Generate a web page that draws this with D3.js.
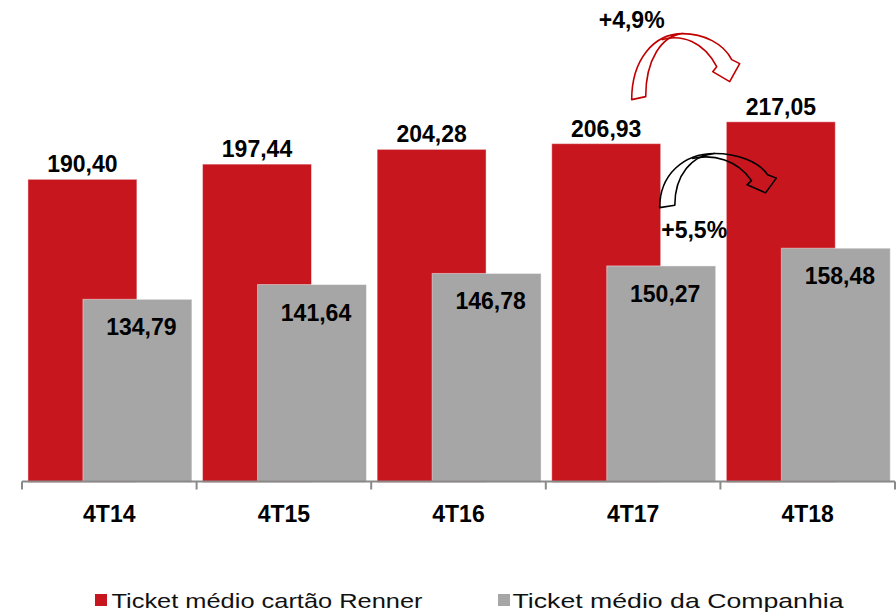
<!DOCTYPE html>
<html><head><meta charset="utf-8">
<script src="https://cdn.jsdelivr.net/npm/d3@7"></script>
<style>html,body{margin:0;padding:0;background:#fff;}svg{display:block;}</style>
</head><body>
<svg id="chart" width="896" height="616"></svg>
<script>
const categories = ["4T14", "4T15", "4T16", "4T17", "4T18"];
const cartaoRenner = [190.40, 197.44, 204.28, 206.93, 217.05];
const companhia = [134.79, 141.64, 146.78, 150.27, 158.48];
const seriesNames = ["Ticket médio cartão Renner", "Ticket médio da Companhia"];
const yDomain = [50, 250];

const RED = "#C8161E", GRAY = "#A6A6A6";
const FONT = "'Liberation Sans', Arial, sans-serif";
const svg = d3.select("#chart");
const locale = d3.formatLocale({decimal: ",", thousands: ".", grouping: [3], currency: ["R$", ""]});
const fmt = locale.format(".2f");
const fmtPct = locale.format("+.1f");

const x = d3.scaleBand().domain(categories).range([22, 895]).paddingInner(0).paddingOuter(0);
const y = d3.scaleLinear().domain(yDomain).range([482.3, 50.7]);
const bw = x.bandwidth();
const redX = c => x(c) + bw * 0.034;
const grayX = c => x(c) + bw * 0.349;
const barW = bw * 0.624;

// red bars
svg.append("g").selectAll("rect").data(categories).join("rect")
  .attr("x", c => redX(c)).attr("width", barW)
  .attr("y", (c, i) => y(cartaoRenner[i]))
  .attr("height", (c, i) => y(yDomain[0]) - y(cartaoRenner[i]))
  .attr("fill", RED).attr("stroke", "rgba(255,255,255,0.45)").attr("stroke-width", 1);
// gray bars
svg.append("g").selectAll("rect").data(categories).join("rect")
  .attr("x", c => grayX(c)).attr("width", barW)
  .attr("y", (c, i) => y(companhia[i]))
  .attr("height", (c, i) => y(yDomain[0]) - y(companhia[i]))
  .attr("fill", GRAY).attr("stroke", "rgba(255,255,255,0.45)").attr("stroke-width", 1);

// value labels
svg.append("g").selectAll("text").data(categories).join("text")
  .attr("x", c => redX(c) + barW / 2).attr("y", (c, i) => y(cartaoRenner[i]) - 7)
  .attr("text-anchor", "middle").attr("font-family", FONT).attr("font-weight", "bold")
  .attr("font-size", 23).attr("fill", "#000")
  .text((c, i) => fmt(cartaoRenner[i]));
svg.append("g").selectAll("text").data(categories).join("text")
  .attr("x", c => grayX(c) + barW / 2 + 4).attr("y", (c, i) => y(companhia[i]) + 36)
  .attr("text-anchor", "middle").attr("font-family", FONT).attr("font-weight", "bold")
  .attr("font-size", 23).attr("fill", "#000")
  .text((c, i) => fmt(companhia[i]));

// axis
const axisY = 481.5;
const ax = svg.append("g").attr("transform", `translate(0,${axisY})`);
ax.append("line").attr("x1", x.range()[0]).attr("x2", x.range()[1]).attr("y1", 0).attr("y2", 0)
  .attr("stroke", "#8a8a8a").attr("stroke-width", 2);
const bounds = categories.map(c => x(c)).concat([x.range()[1]]);
ax.selectAll("line.tk").data(bounds).join("line").attr("class", "tk")
  .attr("x1", d => d).attr("x2", d => d).attr("y1", 0).attr("y2", 8)
  .attr("stroke", "#8a8a8a").attr("stroke-width", 2);
ax.selectAll("text").data(categories).join("text")
  .attr("x", c => x(c) + bw / 2).attr("y", 40.5)
  .attr("text-anchor", "middle").attr("font-family", FONT).attr("font-weight", "bold")
  .attr("font-size", 23).attr("fill", "#000").text(c => c);

// curved arrows
function arrow(ox, oy, sx, sy, color) {
  const P = (px, py) => `${ox + px * sx},${oy + py * sy}`;
  const a = `M${P(0,0)} C${P(0,-40)} ${P(22,-66)} ${P(51,-66)} C${P(30,-64)} ${P(14,-40)} ${P(14,-3)} Z`;
  const b = `M${P(30,-60)} C${P(50,-66)} ${P(72,-58)} ${P(85,-33)} L${P(81,-28)} L${P(98,-18)} L${P(108,-36)} L${P(100,-40)} C${P(92,-56)} ${P(72,-66)} ${P(51,-66)}`;
  const g = svg.append("g").attr("fill", "none").attr("stroke", color).attr("stroke-width", 1.6).attr("stroke-linejoin", "round");
  g.append("path").attr("d", a);
  g.append("path").attr("d", b);
}
const i3 = 3, i4 = 4;
const redRight = redX(categories[i3]) + barW;
// red arrow (cartão Renner growth)
const rOx = redRight - 29, rOy = y(cartaoRenner[i3]) - 44;
arrow(rOx, rOy, 1, 1, "#C00000");
svg.append("text").attr("x", rOx).attr("y", rOy - 72)
  .attr("text-anchor", "middle").attr("font-family", FONT).attr("font-weight", "bold")
  .attr("font-size", 23).attr("fill", "#000")
  .text(fmtPct((cartaoRenner[i4] / cartaoRenner[i3] - 1) * 100) + "%");
// black arrow (Companhia growth)
const bOx = redRight - 1, bOy = y(cartaoRenner[i3]) + 64;
arrow(bOx, bOy, 1.08, 0.82, "#000");
svg.append("text").attr("x", bOx + 34.5).attr("y", bOy + 30)
  .attr("text-anchor", "middle").attr("font-family", FONT).attr("font-weight", "bold")
  .attr("font-size", 23).attr("fill", "#000")
  .text(fmtPct((companhia[i4] / companhia[i3] - 1) * 100) + "%");

// legend
const legend = [
  {name: seriesNames[0], color: RED, sx: 95, tx: 111.5, len: 311},
  {name: seriesNames[1], color: GRAY, sx: 498, tx: 512.5, len: 331}
];
const lg = svg.append("g");
lg.selectAll("rect").data(legend).join("rect")
  .attr("x", d => d.sx).attr("y", 594).attr("width", 12).attr("height", 12).attr("fill", d => d.color);
lg.selectAll("text").data(legend).join("text")
  .attr("x", d => d.tx).attr("y", 607.5).attr("font-family", FONT).attr("font-size", 21)
  .attr("fill", "#111").attr("textLength", d => d.len).attr("lengthAdjust", "spacingAndGlyphs")
  .text(d => d.name);
</script>
</body></html>
